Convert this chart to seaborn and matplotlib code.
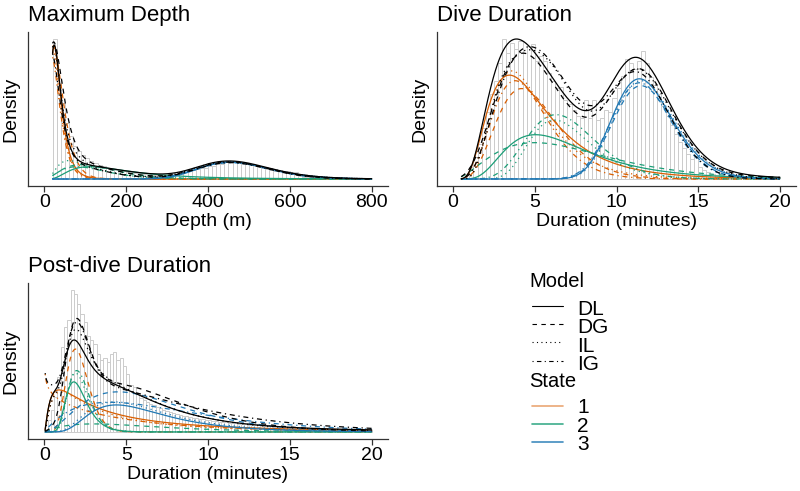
import math
import numpy as np
import pandas as pd
import seaborn as sns
import matplotlib.pyplot as plt
from matplotlib.lines import Line2D

models = ['DL', 'DG', 'IL', 'IG']
states = ['1', '2', '3']
state_colors = {'1': '#D95F02', '2': '#1B9E77', '3': '#1F78B4'}
model_dashes = {'DL': '', 'DG': (4, 4), 'IL': (1, 3), 'IG': (1, 3, 4, 3)}

# state densities: L models are lognormal (p1 = mode, p2 = sdlog),
# G models are gamma (p1 = shape, p2 = scale); w = state weight

# ---- Maximum depth (m) ----
depth_bin_start, depth_bin_width = 20, 10
depth_hist = [138, 100, 75, 55, 42, 33, 28, 24, 21, 18,
              16, 14, 12.5, 11, 10, 9, 8, 7.5,
              7, 6.5, 6, 5.5, 5, 4.5, 4.2, 4, 4, 4,
              4.2, 4.5, 5, 5.5, 6.5, 7.5, 8.5, 9.5, 10.5, 11,
              13, 13, 15, 15, 16.5, 17, 16.5, 16.5, 15, 15.5,
              14, 13, 12, 11, 10, 9, 8, 7.5, 7, 7.5,
              7, 6.5, 3, 2, 1.5, 1, 0.8, 0.6, 0.4, 0.3,
              0.25, 0.2, 0.2, 0.15, 0.15, 0.1, 0.1, 0.1, 0.05, 0.05]
depth_range = (20, 800)
depth_w = {'DL': [0.46, 0.262, 0.36], 'DG': [0.611, 0.23, 0.358],
           'IL': [0.436, 0.239, 0.375], 'IG': [0.461, 0.175, 0.347]}
depth_p1 = {'DL': [24, 110, 455], 'DG': [2.5, 3, 28],
            'IL': [22, 60, 450], 'IG': [2.5, 3, 28]}
depth_p2 = {'DL': [0.52, 0.65, 0.19], 'DG': [14.67, 45, 16.85],
            'IL': [0.55, 0.7, 0.2], 'IG': [12, 40, 16.85]}

# ---- Dive duration (minutes) ----
dive_bin_start, dive_bin_width = 0.5, 0.25
dive_hist = [1, 4, 12, 22, 36, 52, 68, 86, 100, 118,
             142, 128, 138, 132, 140, 128, 135, 137, 120, 125,
             120, 108, 100, 92, 93, 80, 76, 70, 64, 62,
             80, 62, 80, 60, 62, 70, 68, 82, 92, 105,
             122, 118, 112, 120, 130, 118, 104, 96, 86, 74,
             64, 55, 46, 38, 31, 25, 20, 23, 12, 9,
             7, 5, 4, 3, 2, 1]
dive_range = (0.5, 20)
dive_w = {'DL': [0.468, 0.265, 0.387], 'DG': [0.361, 0.28, 0.36],
          'IL': [0.405, 0.24, 0.383], 'IG': [0.355, 0.285, 0.368]}
dive_p1 = {'DL': [3.45, 5.05, 11.4], 'DG': [6, 3, 40],
           'IL': [3.6, 6.2, 11.5], 'IG': [6, 10, 40]}
dive_p2 = {'DL': [0.54, 0.5, 0.16], 'DG': [0.84, 2.5, 0.2949],
           'IL': [0.45, 0.3, 0.16], 'IG': [0.76, 0.7, 0.2923]}

# ---- Post-dive duration (minutes) ----
post_bin_start, post_bin_width = 0, 0.2
post_hist = [3, 12, 22, 35, 55, 85, 105, 112, 142, 138,
             128, 118, 110, 96, 92, 88, 78, 72, 74, 70,
             78, 80, 72, 74, 66, 58, 47, 45, 38, 34,
             32, 30, 28, 27, 25, 24, 22, 21, 20, 19,
             18, 17, 16, 15.5, 15, 14, 13.5, 13, 12.5, 12,
             11.5, 11, 10.5, 10, 10, 9.5, 9, 8.5, 8.5, 8,
             7.5, 7.5, 7, 7, 6.5, 6.5, 6, 6, 5.5, 5.5,
             5, 5, 5, 4.5, 4.5, 4.5, 4, 4, 4, 3.5,
             3.5, 3.5, 3, 3, 3, 3, 2.8, 2.8, 2.6, 2.6,
             2.5, 2.5, 2.4, 2.4, 2.3, 2.3, 2.2, 2.2, 2.1, 2.1]
post_range = (0.05, 20)
post_w = {'DL': [0.423, 0.146, 0.308], 'DG': [0.245, 0.1135, 0.579],
          'IL': [0.351, 0.17, 0.36], 'IG': [0.33, 0.178, 0.56]}
post_p1 = {'DL': [0.9, 1.8, 4.4], 'DG': [9, 2, 3],
           'IL': [1.0, 1.9, 4.3], 'IG': [0.85, 10, 2]}
post_p2 = {'DL': [1.22, 0.35, 0.52], 'DG': [0.2375, 3, 2.25],
           'IL': [1.1, 0.33, 0.55], 'IG': [6, 0.22, 4]}


def state_density(x, model, p1, p2):
    if model.endswith('L'):
        mu = np.log(p1) + p2 ** 2
        return np.exp(-(np.log(x) - mu) ** 2 / (2 * p2 ** 2)) / (x * p2 * np.sqrt(2 * np.pi))
    return np.exp((p1 - 1) * np.log(x) - x / p2 - math.lgamma(p1) - p1 * np.log(p2))


sns.set_theme(style='white')
plt.rcParams['font.family'] = ['Liberation Sans', 'DejaVu Sans']
plt.rcParams['text.color'] = 'black'
plt.rcParams['axes.labelcolor'] = 'black'

fig = plt.figure(figsize=(8, 4.91), dpi=100)
W, H = 800, 491


def panel_axes(x0, y_top, w, h):
    return fig.add_axes([x0 / W, 1 - (y_top + h) / H, w / W, h / H])


def draw_panel(ax, hist, start, width, rng, w, p1, p2, title, xlabel, xlim, xticks):
    edges = [start + width * i for i in range(len(hist) + 1)]
    bars = pd.DataFrame({'x': [e + width / 2 for e in edges[:-1]], 'h': hist})
    sns.histplot(data=bars, x='x', weights='h', bins=edges, stat='density', fill=False,
                 color='#cccccc', linewidth=0.7, ax=ax)

    x = np.linspace(rng[0], rng[1], 800)
    parts, totals = [], []
    for m in models:
        total = np.zeros_like(x)
        for i, s in enumerate(states):
            d = w[m][i] * state_density(x, m, p1[m][i], p2[m][i])
            total += d
            parts.append(pd.DataFrame({'x': x, 'density': d, 'model': m, 'state': s}))
        totals.append(pd.DataFrame({'x': x, 'density': total, 'model': m}))
    parts = pd.concat(parts, ignore_index=True)
    totals = pd.concat(totals, ignore_index=True)

    sns.lineplot(data=parts, x='x', y='density', hue='state', style='model',
                 palette=state_colors, dashes=model_dashes, linewidth=0.9,
                 estimator=None, legend=False, ax=ax)
    sns.lineplot(data=totals, x='x', y='density', style='model', color='black',
                 dashes=model_dashes, linewidth=0.9, estimator=None, legend=False, ax=ax)

    hist_dens = np.array(hist) / (np.sum(hist) * width)
    ymax = max(hist_dens.max(), parts.density.max(), totals.density.max())
    ax.set_ylim(-0.05 * ymax, 1.05 * ymax)
    ax.set_xlim(*xlim)
    ax.set_xticks(xticks)
    ax.set_yticks([])
    ax.set_title(title, loc='left', fontsize=16, pad=8, color='black')
    ax.set_xlabel(xlabel, fontsize=14, labelpad=1)
    ax.set_ylabel('Density', fontsize=14, labelpad=6)
    for side in ['top', 'right']:
        ax.spines[side].set_visible(False)
    for side in ['left', 'bottom']:
        ax.spines[side].set_color('#333333')
        ax.spines[side].set_linewidth(0.9)
    ax.tick_params(axis='x', bottom=True, length=4, width=0.9, color='#333333',
                   labelsize=14, pad=2, labelcolor='black')


ax1 = panel_axes(28, 32, 360, 154)
ax2 = panel_axes(436.7, 32, 359.6, 154)
ax3 = panel_axes(28, 283, 360, 156)

draw_panel(ax1, depth_hist, depth_bin_start, depth_bin_width, depth_range,
           depth_w, depth_p1, depth_p2, 'Maximum Depth', 'Depth (m)',
           (-40, 840), [0, 200, 400, 600, 800])
draw_panel(ax2, dive_hist, dive_bin_start, dive_bin_width, dive_range,
           dive_w, dive_p1, dive_p2, 'Dive Duration', 'Duration (minutes)',
           (-1, 21), [0, 5, 10, 15, 20])
draw_panel(ax3, post_hist, post_bin_start, post_bin_width, post_range,
           post_w, post_p1, post_p2, 'Post-dive Duration', 'Duration (minutes)',
           (-1, 21), [0, 5, 10, 15, 20])


# legend, drawn by hand in the empty bottom-right slot
def fy(y):
    return 1 - y / H


fig.text(529.3 / W, fy(286.7), 'Model', fontsize=14.5, va='baseline', ha='left')
for i, m in enumerate(models):
    ly = 305.7 + 18.33 * i
    ls = '-' if model_dashes[m] == '' else (0, model_dashes[m])
    fig.add_artist(Line2D([532 / W, 562.7 / W], [fy(ly)] * 2, color='black', lw=0.8, linestyle=ls))
    fig.text(577.3 / W, fy(315 + 18.33 * i), m, fontsize=15, va='baseline', ha='left')

fig.text(529.3 / W, fy(386.7), 'State', fontsize=14.5, va='baseline', ha='left')
legend_alpha = {'1': 0.55, '2': 0.85, '3': 0.85}
for i, s in enumerate(states):
    ly = 405.7 + 18.3 * i
    fig.add_artist(Line2D([532 / W, 562.7 / W], [fy(ly)] * 2, color=state_colors[s],
                          lw=1.2, alpha=legend_alpha[s]))
    fig.text(577.3 / W, fy(413.3 + 18.3 * i), s, fontsize=15, va='baseline', ha='left')

fig.savefig('out.png', dpi=100)
